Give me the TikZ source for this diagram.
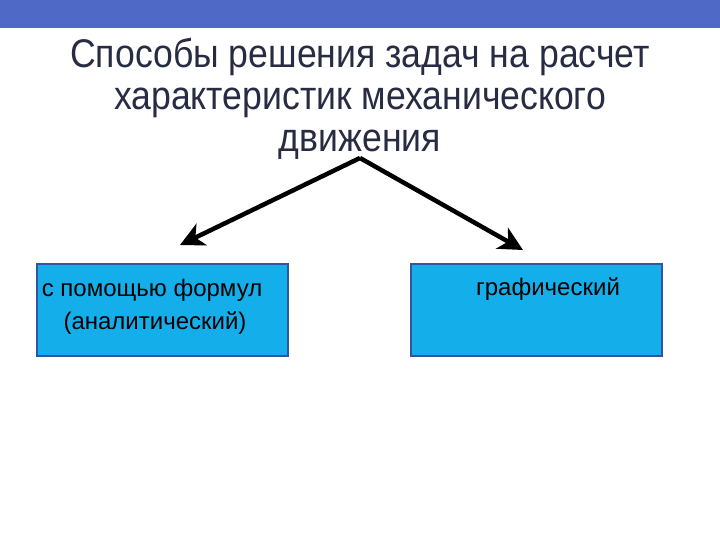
\documentclass[tikz,border=0pt]{standalone}
\usepackage{fontspec}
\setmainfont{Liberation Sans}
\newfontfamily\titlefont{Liberation Sans}[FakeStretch=0.89]
\usetikzlibrary{arrows.meta}
\definecolor{barblue}{RGB}{79,106,198}
\definecolor{titlecol}{RGB}{40,44,66}
\definecolor{boxfill}{RGB}{20,175,235}
\definecolor{boxline}{RGB}{50,85,160}
\tikzset{
  box/.style={draw=boxline, line width=1.5pt, fill=boxfill, minimum width=251pt, minimum height=92pt, inner sep=0pt, anchor=north west},
  boxtext/.style={font=\fontsize{24}{28}\selectfont, text=black, inner sep=0pt},
  titletext/.style={font=\titlefont\fontsize{40}{42}\selectfont, text=titlecol, align=center, inner sep=0pt},
  arr/.style={line width=4.5pt, -{Stealth[length=24pt,width=24pt,inset=7pt]}}
}
\begin{document}
\begin{tikzpicture}[x=1pt,y=-1pt]
\useasboundingbox (0,0) rectangle (720,540);
\fill[barblue] (0,0) rectangle (720,28);
\node[titletext] (title) at (360,99) {Способы решения задач на расчет\\характеристик механического\\движения};
\coordinate (apex) at (360,158);
\coordinate (lt) at (180,245);
\coordinate (rt) at (523,250);
\draw[arr] (apex) -- (lt);
\draw[arr] (apex) -- (rt);
\node[box] (lbox) at (36,263) {};
\node[box] (rbox) at (410,263) {};
\node[boxtext] (l1) at (152,290) {с помощью формул};
\node[boxtext] (l2) at (155,323) {(аналитический)};
\node[boxtext] (r1) at (548,289) {графический};
\end{tikzpicture}
\end{document}
